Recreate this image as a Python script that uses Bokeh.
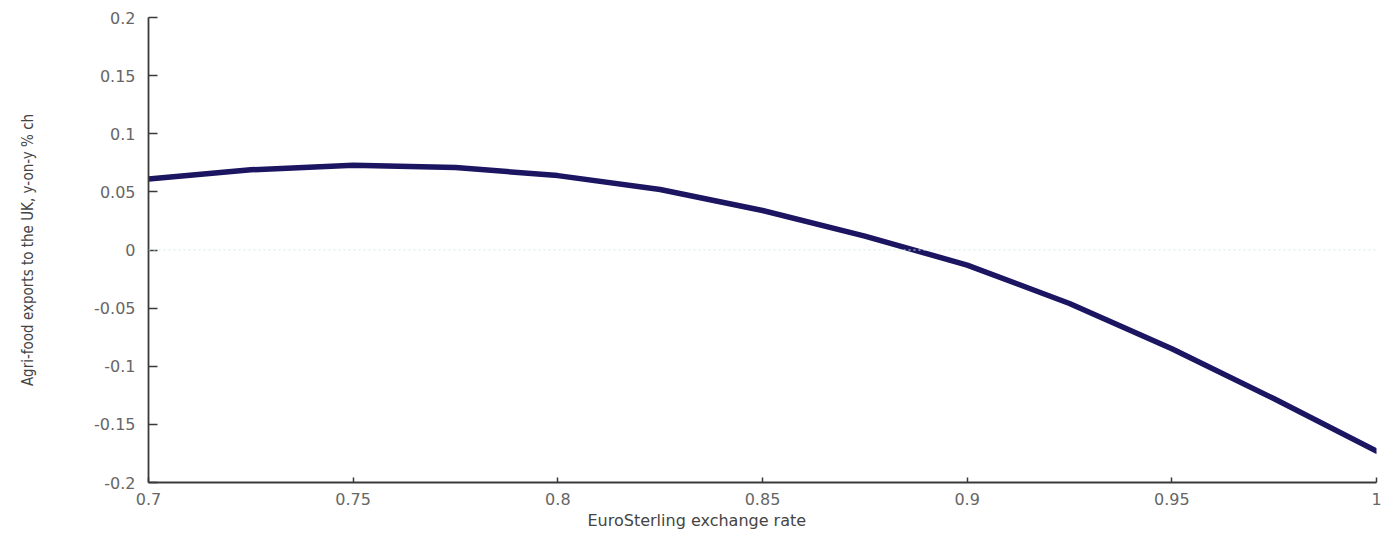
from bokeh.plotting import figure
from bokeh.models import Range1d, FixedTicker, Span, Title
from bokeh.embed import file_html
from bokeh.resources import INLINE

# Data
exchange_rate = [0.700, 0.725, 0.750, 0.775, 0.800, 0.825, 0.850,
                 0.875, 0.900, 0.925, 0.950, 0.975, 1.000]
export_change = [0.061, 0.069, 0.073, 0.071, 0.064, 0.052, 0.034,
                 0.012, -0.013, -0.046, -0.085, -0.128, -0.173]
x_ticks = [0.7, 0.75, 0.8, 0.85, 0.9, 0.95, 1.0]
x_tick_labels = ["0.7", "0.75", "0.8", "0.85", "0.9", "0.95", "1"]
y_ticks = [-0.2, -0.15, -0.1, -0.05, 0, 0.05, 0.1, 0.15, 0.2]
y_tick_labels = ["-0.2", "-0.15", "-0.1", "-0.05", "0", "0.05", "0.1", "0.15", "0.2"]
x_title = "EuroSterling exchange rate"
y_title = "Agri-food exports to the UK, y-on-y % ch"

p = figure(width=1382, height=534, output_backend="svg", toolbar_location=None,
           x_range=Range1d(0.7, 1.0), y_range=Range1d(-0.2, 0.2),
           min_border_left=148, min_border_right=6, min_border_top=17, min_border_bottom=52)
p.outline_line_color = None
p.xgrid.visible = False
p.ygrid.visible = False
p.background_fill_color = "white"
p.border_fill_color = "white"

p.add_layout(Span(location=0, dimension="width", line_color="#cfeaea",
                  line_width=1, line_dash="2 3"))

p.line(exchange_rate, export_change, line_color="#1b1562", line_width=5.5,
       line_join="round", line_cap="round")

p.xaxis.ticker = FixedTicker(ticks=x_ticks)
p.yaxis.ticker = FixedTicker(ticks=y_ticks)
p.xaxis.major_label_overrides = {t: l for t, l in zip(x_ticks, x_tick_labels)}
p.yaxis.major_label_overrides = {t: l for t, l in zip(y_ticks, y_tick_labels)}

for ax in (p.xaxis[0], p.yaxis[0]):
    ax.axis_line_color = "#3a3a3a"
    ax.axis_line_width = 1.8
    ax.major_tick_line_color = "#3a3a3a"
    ax.major_tick_line_width = 1.5
    ax.major_tick_out = 0
    ax.minor_tick_line_color = None
    ax.major_label_text_font = "DejaVu Sans"
    ax.major_label_text_font_size = "16px"
    ax.major_label_text_color = "#666666"
    ax.axis_label_text_font_style = "normal"
    ax.axis_label_text_color = "#444444"

p.xaxis.major_tick_in = 5
p.yaxis.major_tick_in = 9
p.xaxis.major_label_standoff = 10
p.yaxis.major_label_standoff = 13

p.yaxis.axis_label = y_title
p.yaxis.axis_label_text_font = "Liberation Sans Narrow, DejaVu Sans Condensed, sans-serif"
p.yaxis.axis_label_text_font_size = "15px"
p.yaxis.axis_label_standoff = 54

p.add_layout(Title(text=x_title, align="left", offset=439, text_font="DejaVu Sans",
                   text_font_size="16px", text_font_style="normal",
                   text_color="#444444", standoff=2), "below")

open("out.html", "w").write(file_html(p, INLINE))
